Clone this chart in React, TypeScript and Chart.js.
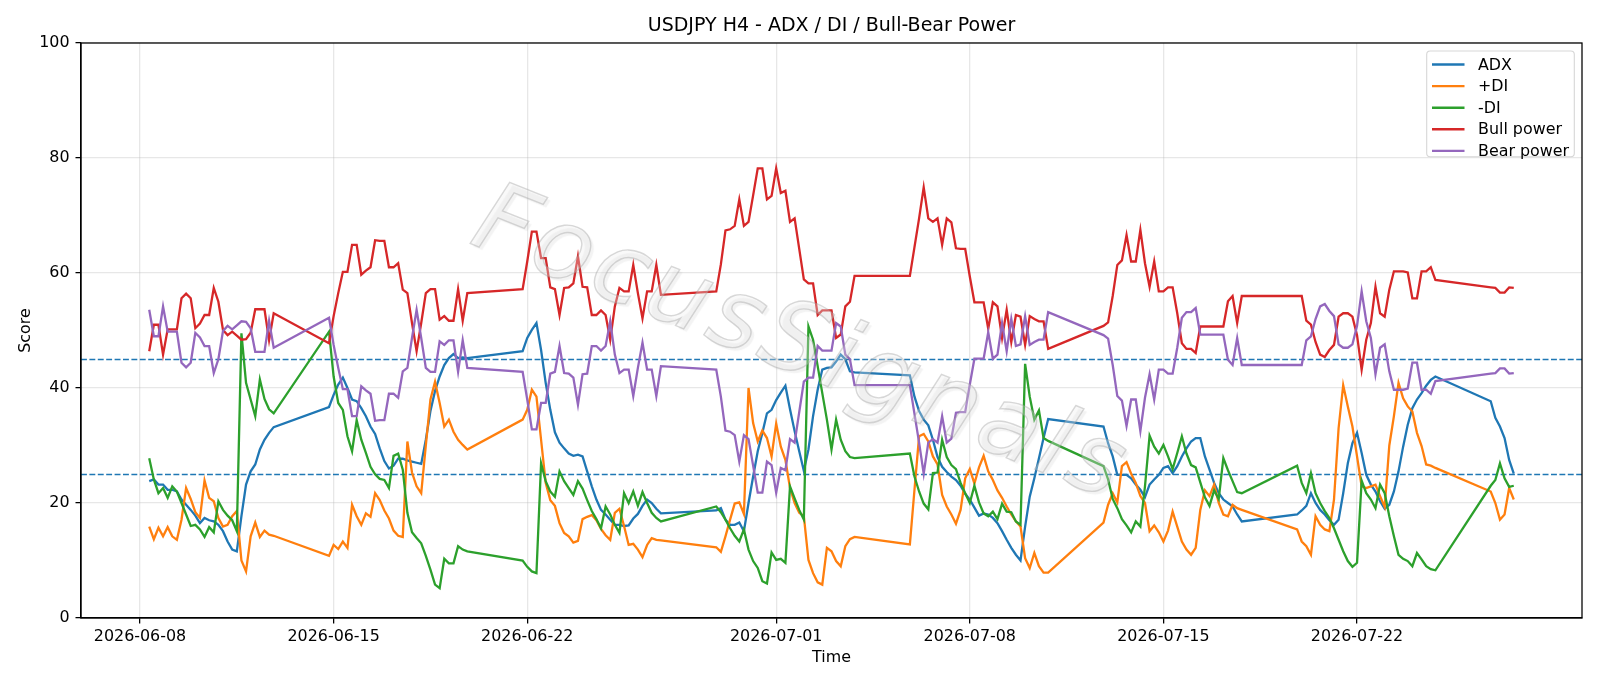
import React, { useEffect, useRef } from "react";
import { Chart, registerables } from "chart.js";

Chart.register(...registerables);

// ---------------- data ----------------
// H4 bars: each trading session starts at the given time and has the given number of bars
const sessionStarts = [
  "2026-06-08T08:00:00Z",
  "2026-06-14T20:00:00Z",
  "2026-06-21T20:00:00Z",
  "2026-06-28T20:00:00Z",
  "2026-07-05T20:00:00Z",
  "2026-07-12T20:00:00Z",
  "2026-07-19T20:00:00Z",
  "2026-07-26T20:00:00Z",
];
const sessionBars = [28, 31, 31, 31, 31, 31, 31, 6];

const adx = [
  23.8, 24.1, 23.2, 23.2, 22.3, 22.3, 22.0, 20.6, 19.7, 18.8, 17.8, 16.5, 17.4, 17.0, 16.8, 16.2, 15.1, 13.3, 11.9, 11.6, 17.7, 23.2, 25.5, 26.7, 29.3, 31.0, 32.2, 33.2,
  36.7, 38.8, 40.6, 41.8, 40.0, 38.0, 37.7, 36.5, 35.1, 33.3, 32.0, 29.5, 27.3, 26.0, 26.5, 27.7, 27.7, 27.4, 27.2, 27.0, 26.8, 31.0, 36.0, 39.5, 42.0, 44.0, 45.2, 45.9, 45.2, 45.3, 45.2,
  46.4, 48.7, 50.1, 51.3, 46.6, 40.9, 36.2, 32.3, 30.5, 29.5, 28.6, 28.2, 28.4, 28.1, 25.5, 22.9, 20.6, 18.8, 18.0, 17.1, 16.2, 16.2, 16.0, 16.1, 17.3, 18.1, 19.5, 20.6, 20.0, 19.0, 18.2,
  18.7, 19.1, 17.1, 16.2, 16.2, 16.6, 15.1, 20.0, 24.6, 29.0, 32.2, 35.6, 36.2, 37.9, 39.2, 40.4, 36.3, 32.5, 29.0, 25.6, 29.3, 35.1, 39.7, 43.2, 43.5, 43.6, 44.6, 45.8, 45.0, 42.9, 42.7,
  42.2, 38.5, 36.0, 34.5, 33.5, 31.0, 28.0, 26.3, 25.4, 24.6, 24.0, 23.0, 21.6, 20.6, 19.2, 17.8, 18.2, 18.0, 17.4, 16.5, 15.1, 13.6, 12.2, 11.0, 10.0, 15.9, 21.1, 24.3, 27.8, 31.3, 34.6,
  33.3, 30.4, 28.1, 24.9, 24.9, 24.9, 24.3, 23.2, 22.3, 21.0, 23.2, 24.1, 24.9, 26.1, 26.4, 25.2, 26.4, 28.1, 29.5, 30.7, 31.3, 31.3, 28.1, 25.8, 23.5, 21.7, 20.6, 20.0, 19.4, 18.0, 16.8,
  18.0, 18.7, 19.5, 21.7, 20.0, 18.8, 18.0, 17.0, 16.2, 17.1, 21.7, 26.9, 30.4, 32.2, 28.7, 24.9, 23.2, 22.0, 20.3, 19.0, 19.7, 22.0, 25.5, 29.8, 33.6, 36.5, 38.0, 39.1, 40.4, 41.4, 42.0,
  37.7, 34.8, 33.3, 31.3, 27.5, 25.1,
];

const plusDI = [
  15.9, 13.7, 15.7, 14.2, 15.8, 14.2, 13.6, 17.1, 22.6, 20.7, 18.4, 17.4, 23.9, 20.9, 20.3, 17.4, 15.9, 16.2, 17.7, 18.6, 10.0, 8.1, 14.2, 16.6, 14.1, 15.2, 14.5, 14.3,
  10.8, 12.7, 12.0, 13.3, 12.2, 19.7, 17.7, 16.2, 18.2, 17.6, 21.7, 20.5, 18.7, 17.3, 15.2, 14.3, 14.1, 30.7, 25.3, 22.9, 21.7, 30.0, 38.0, 41.1, 37.4, 33.3, 34.5, 32.4, 31.0, 30.1, 29.3,
  34.5, 36.2, 39.7, 38.5, 31.0, 23.5, 20.5, 19.5, 16.5, 14.8, 14.2, 13.1, 13.4, 17.2, 17.6, 17.9, 17.0, 15.5, 14.4, 13.6, 18.3, 19.0, 16.0, 12.7, 12.9, 11.9, 10.6, 12.7, 13.9, 13.6, 13.5,
  12.3, 11.5, 14.2, 17.1, 19.9, 20.1, 18.1, 40.0, 33.9, 30.7, 32.6, 31.3, 28.1, 33.8, 29.8, 27.5, 22.6, 20.0, 18.3, 17.7, 10.1, 7.8, 6.2, 5.8, 12.2, 11.6, 9.9, 9.0, 12.5, 13.7, 14.1,
  12.8, 22.3, 31.6, 32.0, 30.7, 28.1, 26.7, 21.4, 19.4, 18.0, 16.4, 18.8, 24.3, 25.9, 23.4, 26.2, 28.2, 25.5, 24.0, 22.2, 20.9, 19.4, 18.0, 16.8, 15.9, 10.4, 8.7, 11.3, 9.0, 7.9, 7.9,
  16.6, 19.7, 21.7, 20.1, 26.4, 27.1, 25.1, 23.5, 21.2, 20.0, 15.1, 16.1, 14.9, 13.3, 15.2, 18.5, 15.9, 13.3, 11.9, 11.0, 12.2, 18.8, 22.2, 21.2, 23.2, 20.0, 18.0, 17.7, 19.7, 19.1, 18.8,
  15.4, 13.3, 12.5, 11.0, 17.7, 16.2, 15.4, 15.1, 20.6, 33.0, 40.5, 36.8, 33.3, 28.1, 22.9, 22.6, 22.9, 23.2, 21.2, 19.3, 30.0, 35.1, 40.9, 38.2, 36.8, 35.9, 32.2, 29.9, 26.7, 26.5, 26.1,
  22.0, 20.0, 17.1, 18.0, 22.6, 20.6,
];

const minusDI = [
  27.8, 24.1, 21.7, 22.6, 20.9, 22.9, 22.0, 20.0, 18.0, 16.0, 16.2, 15.4, 14.1, 15.8, 14.9, 20.3, 18.8, 17.8, 17.0, 15.1, 49.5, 40.9, 38.0, 35.1, 41.5, 38.1, 36.3, 35.6,
  49.8, 42.0, 37.4, 36.2, 31.6, 29.0, 34.4, 31.0, 28.7, 26.3, 25.0, 24.2, 24.0, 22.6, 28.2, 28.6, 25.8, 18.3, 14.9, 13.9, 13.0, 10.8, 8.4, 5.8, 5.2, 10.3, 9.5, 9.5, 12.5, 11.9, 11.6,
  10.0, 8.9, 8.1, 7.8, 26.9, 23.8, 22.0, 21.1, 25.5, 23.8, 22.6, 21.4, 23.8, 22.5, 20.5, 18.6, 17.2, 15.6, 19.4, 18.0, 16.2, 14.8, 21.7, 20.0, 22.0, 19.5, 21.9, 20.0, 18.3, 17.4, 16.8,
  19.4, 18.4, 17.1, 15.6, 14.3, 13.3, 15.4, 11.9, 9.9, 8.7, 6.4, 6.0, 11.4, 10.1, 10.3, 9.6, 22.9, 20.8, 18.8, 17.1, 50.7, 48.4, 43.8, 39.1, 34.5, 29.3, 34.5, 31.0, 29.0, 28.0, 27.8,
  28.6, 24.6, 22.0, 19.9, 18.9, 25.2, 25.3, 31.0, 28.0, 26.6, 25.9, 23.5, 21.7, 20.0, 23.0, 20.1, 18.2, 17.7, 18.5, 17.2, 19.9, 18.5, 18.4, 16.8, 16.2, 44.2, 38.5, 34.5, 36.1, 31.3, 30.8,
  26.4, 24.1, 20.7, 19.1, 17.2, 16.1, 14.9, 16.8, 15.9, 22.9, 31.7, 29.8, 28.6, 30.1, 28.1, 25.9, 28.7, 31.6, 28.6, 26.6, 26.2, 23.6, 21.0, 19.5, 22.2, 20.7, 27.8, 25.7, 23.8, 21.9, 21.7,
  26.5, 23.5, 21.7, 25.2, 21.7, 20.0, 18.6, 17.4, 15.6, 13.6, 11.6, 9.9, 8.9, 9.6, 23.9, 21.7, 20.6, 19.1, 23.2, 21.7, 17.7, 14.2, 11.0, 10.3, 9.9, 9.0, 11.3, 10.2, 9.0, 8.5, 8.3,
  23.0, 24.0, 26.9, 24.3, 22.8, 23.0,
];

const bullPower = [
  46.4, 51.0, 51.0, 45.8, 50.2, 50.2, 50.2, 55.6, 56.4, 55.6, 50.4, 51.2, 52.7, 52.7, 57.4, 55.0, 50.1, 49.2, 49.8, 49.1, 48.4, 48.5, 49.6, 53.7, 53.7, 53.7, 48.3, 53.0,
  47.8, 52.5, 56.5, 60.2, 60.2, 64.9, 64.9, 59.7, 60.4, 61.0, 65.7, 65.6, 65.6, 61.0, 61.0, 61.7, 57.1, 56.5, 51.3, 46.4, 51.3, 56.5, 57.2, 57.2, 51.9, 52.5, 51.7, 51.7, 57.2, 51.7, 56.5,
  57.2, 62.0, 67.2, 67.2, 62.6, 62.6, 57.5, 57.2, 52.7, 57.4, 57.5, 58.2, 62.9, 57.6, 57.5, 52.7, 52.7, 53.5, 52.7, 48.4, 54.2, 57.4, 56.8, 56.8, 61.4, 56.5, 52.1, 56.8, 56.8, 61.4, 56.2,
  56.8, 61.5, 67.4, 67.6, 68.2, 72.8, 68.2, 68.9, 73.5, 78.2, 78.2, 72.8, 73.4, 78.2, 73.9, 74.3, 68.9, 69.5, 64.2, 58.9, 58.2, 58.2, 52.7, 53.5, 53.5, 53.5, 48.7, 49.3, 54.2, 55.0, 59.5,
  59.5, 64.5, 69.5, 74.9, 69.5, 68.9, 69.5, 64.9, 69.5, 68.8, 64.3, 64.2, 64.2, 59.4, 54.9, 54.9, 54.9, 50.3, 54.9, 54.2, 48.7, 53.6, 48.0, 52.7, 52.4, 47.5, 52.5, 52.0, 51.6, 51.6, 46.8,
  50.8, 51.4, 56.0, 61.4, 62.2, 66.6, 62.0, 62.0, 67.5, 61.7, 57.6, 62.0, 56.8, 56.8, 57.5, 57.5, 53.0, 47.8, 46.8, 46.8, 46.1, 50.7, 50.7, 50.7, 50.7, 50.7, 50.7, 55.1, 56.0, 51.3, 56.0,
  56.0, 56.0, 51.7, 51.0, 48.0, 45.8, 45.4, 46.6, 47.5, 52.4, 53.0, 53.0, 52.4, 49.2, 43.2, 48.4, 51.3, 57.6, 53.0, 52.4, 57.1, 60.3, 60.3, 60.3, 60.1, 55.6, 55.6, 60.3, 60.3, 61.0, 58.8,
  57.5, 57.4, 56.6, 56.6, 57.5, 57.4,
];

const bearPower = [
  53.6, 49.0, 49.0, 54.2, 49.8, 49.8, 49.8, 44.4, 43.6, 44.4, 49.6, 48.8, 47.3, 47.3, 42.6, 45.0, 49.9, 50.8, 50.2, 50.9, 51.6, 51.5, 50.4, 46.3, 46.3, 46.3, 51.7, 47.0,
  52.2, 47.5, 43.5, 39.8, 39.8, 35.1, 35.1, 40.3, 39.6, 39.0, 34.3, 34.4, 34.4, 39.0, 39.0, 38.3, 42.9, 43.5, 48.7, 53.6, 48.7, 43.5, 42.8, 42.8, 48.1, 47.5, 48.3, 48.3, 42.8, 48.3, 43.5,
  42.8, 38.0, 32.8, 32.8, 37.4, 37.4, 42.5, 42.8, 47.3, 42.6, 42.5, 41.8, 37.1, 42.4, 42.5, 47.3, 47.3, 46.5, 47.3, 51.6, 45.8, 42.6, 43.2, 43.2, 38.6, 43.5, 47.9, 43.2, 43.2, 38.6, 43.8,
  43.2, 38.5, 32.6, 32.4, 31.8, 27.2, 31.8, 31.1, 26.5, 21.8, 21.8, 27.2, 26.6, 21.8, 26.1, 25.7, 31.1, 30.5, 35.8, 41.1, 41.8, 41.8, 47.3, 46.5, 46.5, 46.5, 51.3, 50.7, 45.8, 45.0, 40.5,
  40.5, 35.5, 30.5, 25.1, 30.5, 31.1, 30.5, 35.1, 30.5, 31.2, 35.7, 35.8, 35.8, 40.6, 45.1, 45.1, 45.1, 49.7, 45.1, 45.8, 51.3, 46.4, 52.0, 47.3, 47.6, 52.5, 47.5, 48.0, 48.4, 48.4, 53.2,
  49.2, 48.6, 44.0, 38.6, 37.8, 33.4, 38.0, 38.0, 32.5, 38.3, 42.4, 38.0, 43.2, 43.2, 42.5, 42.5, 47.0, 52.2, 53.2, 53.2, 53.9, 49.3, 49.3, 49.3, 49.3, 49.3, 49.3, 44.9, 44.0, 48.7, 44.0,
  44.0, 44.0, 48.3, 49.0, 52.0, 54.2, 54.6, 53.4, 52.5, 47.6, 47.0, 47.0, 47.6, 50.8, 56.8, 51.6, 48.7, 42.4, 47.0, 47.6, 42.9, 39.7, 39.7, 39.7, 39.9, 44.4, 44.4, 39.7, 39.7, 39.0, 41.2,
  42.5, 42.6, 43.4, 43.4, 42.5, 42.6,
];

const seriesLabels = ["ADX", "+DI", "-DI", "Bull power", "Bear power"];
const seriesColors = ["#1f77b4", "#ff7f0e", "#2ca02c", "#d62728", "#9467bd"];
const xTickDates = ["2026-06-08", "2026-06-15", "2026-06-22", "2026-07-01", "2026-07-08", "2026-07-15", "2026-07-22"];
const yTicks = [0, 20, 40, 60, 80, 100];
const refLevels = [25, 45];

const titleText = "USDJPY H4 - ADX / DI / Bull-Bear Power";
const xLabel = "Time";
const yLabel = "Score";
const watermarkText = "FocusSignals";

// ---------------- helpers ----------------
const FONT = "'DejaVu Sans', 'Liberation Sans', sans-serif";
const H4 = 4 * 3600 * 1000;
const times: number[] = [];
sessionStarts.forEach((s, i) => {
  const t0 = Date.parse(s);
  for (let k = 0; k < sessionBars[i]; k++) times.push(t0 + k * H4);
});
const tMin = times[0];
const tMax = times[times.length - 1];
const span = tMax - tMin;
const xMin = tMin - 0.05 * span;
const xMax = tMax + 0.05 * span;
const xTickValues = xTickDates.map((d) => Date.parse(d + "T00:00:00Z"));

const allSeries = [adx, plusDI, minusDI, bullPower, bearPower];

const decorPlugin = {
  id: "decor",
  beforeDatasetsDraw(chart: any) {
    const { ctx, chartArea: a, scales } = chart;
    ctx.save();
    ctx.beginPath();
    ctx.rect(a.left, a.top, a.right - a.left, a.bottom - a.top);
    ctx.clip();
    ctx.strokeStyle = "#1f77b4";
    ctx.lineWidth = 1.6;
    ctx.setLineDash([5.9, 2.5]);
    refLevels.forEach((v) => {
      const y = Math.round(scales.y.getPixelForValue(v)) + 0.5;
      ctx.beginPath();
      ctx.moveTo(a.left, y);
      ctx.lineTo(a.right, y);
      ctx.stroke();
    });
    ctx.restore();
  },
  afterDatasetsDraw(chart: any) {
    const { ctx } = chart;
    // faint rotated watermark across the middle of the plot
    ctx.save();
    ctx.translate(800, 348);
    ctx.rotate((21.8 * Math.PI) / 180);
    ctx.textAlign = "center";
    ctx.textBaseline = "middle";
    ctx.font = "italic 300 98px 'DejaVu Sans', sans-serif";
    try {
      (ctx as any).letterSpacing = "5px";
    } catch (e) {}
    ctx.shadowColor = "rgba(120,120,120,0.30)";
    ctx.shadowOffsetX = 3;
    ctx.shadowOffsetY = 3;
    ctx.shadowBlur = 1;
    ctx.fillStyle = "rgba(235,235,235,0.30)";
    ctx.fillText(watermarkText, 0, 0);
    ctx.shadowColor = "transparent";
    ctx.strokeStyle = "rgba(160,160,160,0.4)";
    ctx.lineWidth = 1.4;
    ctx.strokeText(watermarkText, 0, 0);
    ctx.restore();
  },
  afterDraw(chart: any) {
    const { ctx, chartArea: a } = chart;
    ctx.save();
    // frame
    ctx.strokeStyle = "#000";
    ctx.lineWidth = 1.27;
    ctx.setLineDash([]);
    ctx.strokeRect(a.left, a.top, a.right - a.left, a.bottom - a.top);
    // title
    ctx.fillStyle = "#000";
    ctx.textAlign = "center";
    ctx.textBaseline = "middle";
    ctx.font = `19px ${FONT}`;
    ctx.fillText(titleText, (a.left + a.right) / 2, 26.5);
    // axis labels
    ctx.font = `15.9px ${FONT}`;
    ctx.fillText(xLabel, (a.left + a.right) / 2, 658);
    ctx.save();
    ctx.translate(25.5, (a.top + a.bottom) / 2);
    ctx.rotate(-Math.PI / 2);
    ctx.fillText(yLabel, 0, 0);
    ctx.restore();
    // legend
    const bx = 1426.7, by = 51, bw = 147.6, bh = 105.7, r = 3.5;
    ctx.beginPath();
    ctx.moveTo(bx + r, by);
    ctx.lineTo(bx + bw - r, by);
    ctx.quadraticCurveTo(bx + bw, by, bx + bw, by + r);
    ctx.lineTo(bx + bw, by + bh - r);
    ctx.quadraticCurveTo(bx + bw, by + bh, bx + bw - r, by + bh);
    ctx.lineTo(bx + r, by + bh);
    ctx.quadraticCurveTo(bx, by + bh, bx, by + bh - r);
    ctx.lineTo(bx, by + r);
    ctx.quadraticCurveTo(bx, by, bx + r, by);
    ctx.closePath();
    ctx.fillStyle = "rgba(255,255,255,0.8)";
    ctx.fill();
    ctx.strokeStyle = "rgba(204,204,204,0.8)";
    ctx.lineWidth = 1.1;
    ctx.stroke();
    ctx.textAlign = "left";
    ctx.textBaseline = "middle";
    ctx.font = `15.9px ${FONT}`;
    seriesLabels.forEach((lab, i) => {
      const y = 64.5 + i * 21.6;
      ctx.strokeStyle = seriesColors[i];
      ctx.lineWidth = 2.4;
      ctx.beginPath();
      ctx.moveTo(1432, y);
      ctx.lineTo(1464.5, y);
      ctx.stroke();
      ctx.fillStyle = "#000";
      ctx.fillText(lab, 1478, y + 1);
    });
    ctx.restore();
  },
};

export default function App() {
  const ref = useRef<HTMLCanvasElement | null>(null);
  useEffect(() => {
    document.body.style.margin = "0";
    const canvas = ref.current;
    if (!canvas) return;
    const datasets = allSeries.map((vals, si) => ({
      label: seriesLabels[si],
      data: times.map((t, i) => ({ x: t, y: vals[i] })),
      borderColor: seriesColors[si],
      backgroundColor: seriesColors[si],
      borderWidth: 2.3,
      pointRadius: 0,
      tension: 0,
      fill: false,
      order: allSeries.length - si,
    }));
    const tickFont = { family: FONT, size: 15.9 };
    const chart = new Chart(canvas, {
      type: "line",
      data: { datasets },
      plugins: [decorPlugin],
      options: {
        responsive: false,
        animation: false,
        devicePixelRatio: 1,
        layout: { padding: { top: 43, right: 18, bottom: 0, left: 0 } },
        plugins: { legend: { display: false }, title: { display: false }, tooltip: { enabled: false } },
        scales: {
          x: {
            type: "linear",
            min: xMin,
            max: xMax,
            afterFit: (s: any) => {
              s.height = 68;
            },
            afterBuildTicks: (s: any) => {
              s.ticks = xTickValues.map((v) => ({ value: v }));
            },
            ticks: {
              autoSkip: false,
              maxRotation: 0,
              minRotation: 0,
              padding: 4,
              color: "#000",
              font: tickFont,
              callback: (v: any) => new Date(Number(v)).toISOString().slice(0, 10),
            },
            grid: {
              color: "rgba(176,176,176,0.3)",
              lineWidth: 1.27,
              drawTicks: true,
              tickLength: 5.5,
              tickColor: "#000",
              tickWidth: 1.27,
            },
            border: { display: true, color: "#000", width: 1.27 },
          },
          y: {
            min: 0,
            max: 100,
            afterFit: (s: any) => {
              s.width = 81;
            },
            afterBuildTicks: (s: any) => {
              s.ticks = yTicks.map((v) => ({ value: v }));
            },
            ticks: { padding: 6, color: "#000", font: tickFont },
            grid: {
              color: "rgba(176,176,176,0.3)",
              lineWidth: 1.27,
              drawTicks: true,
              tickLength: 5.5,
              tickColor: "#000",
              tickWidth: 1.27,
            },
            border: { display: true, color: "#000", width: 1.27 },
          },
        },
      } as any,
    });
    return () => chart.destroy();
  }, []);
  return (
    <div style={{ width: 1600, height: 686, background: "#fff" }}>
      <canvas ref={ref} width={1600} height={686} style={{ display: "block" }} />
    </div>
  );
}
